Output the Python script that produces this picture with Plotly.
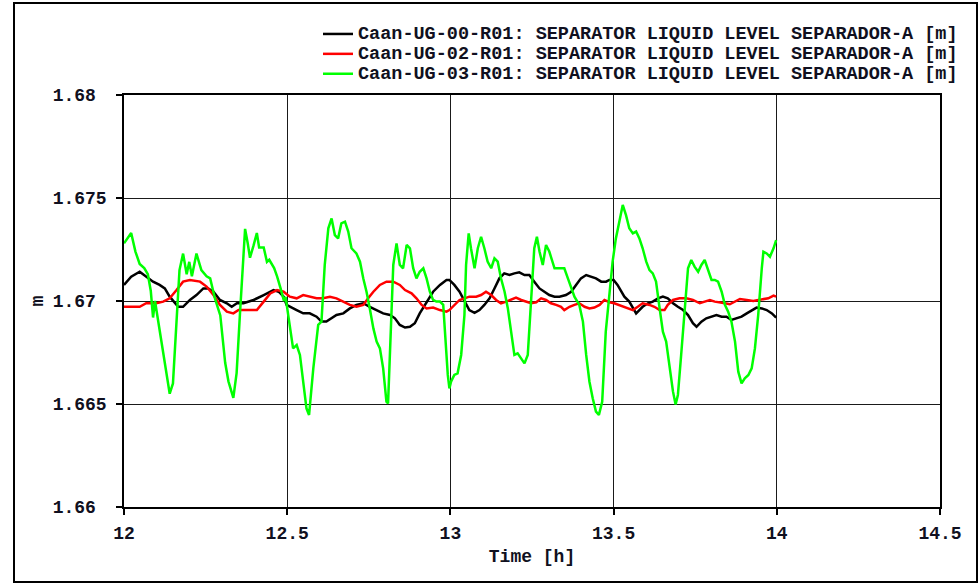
import plotly.graph_objects as go

# ---------------- data ----------------
time_black = [12.000, 12.022, 12.048, 12.068, 12.089, 12.109, 12.125, 12.140, 12.166, 12.181,
              12.202, 12.222, 12.243, 12.258, 12.274, 12.294, 12.315, 12.330, 12.346, 12.366,
              12.397, 12.428, 12.458, 12.474, 12.489, 12.498, 12.508, 12.529, 12.549, 12.569,
              12.590, 12.605, 12.620, 12.636, 12.651, 12.672, 12.692, 12.712, 12.733, 12.753,
              12.774, 12.794, 12.815, 12.830, 12.845, 12.861, 12.876, 12.891, 12.906, 12.927,
              12.947, 12.968, 12.988, 12.997, 13.012, 13.028, 13.043, 13.058, 13.074, 13.089,
              13.104, 13.120, 13.135, 13.150, 13.165, 13.181, 13.196, 13.211, 13.227, 13.242,
              13.257, 13.273, 13.288, 13.303, 13.319, 13.334, 13.354, 13.370, 13.385, 13.400,
              13.416, 13.431, 13.446, 13.462, 13.477, 13.487, 13.500, 13.512, 13.523, 13.533,
              13.548, 13.559, 13.569, 13.579, 13.589, 13.605, 13.620, 13.636, 13.651, 13.666,
              13.682, 13.697, 13.713, 13.728, 13.743, 13.754, 13.769, 13.784, 13.800, 13.815,
              13.831, 13.846, 13.861, 13.877, 13.892, 13.908, 13.923, 13.938, 13.954, 13.969,
              13.985, 13.998]
level_black = [1.67078, 1.67118, 1.67142, 1.67118, 1.67094, 1.67078, 1.67061, 1.67021, 1.66972, 1.66972,
               1.67005, 1.67029, 1.67061, 1.67061, 1.67045, 1.67005, 1.66989, 1.66972, 1.66989, 1.66989,
               1.67005, 1.67029, 1.67053, 1.67045, 1.67021, 1.66981, 1.66972, 1.66956, 1.66940, 1.66940,
               1.66924, 1.66900, 1.66900, 1.66916, 1.66932, 1.66940, 1.66964, 1.66981, 1.66989, 1.66972,
               1.66956, 1.66940, 1.66932, 1.66916, 1.66884, 1.66871, 1.66875, 1.66892, 1.66940, 1.66997,
               1.67045, 1.67078, 1.67102, 1.67102, 1.67078, 1.67045, 1.66997, 1.66956, 1.66943, 1.66956,
               1.66981, 1.67013, 1.67061, 1.67110, 1.67134, 1.67126, 1.67134, 1.67139, 1.67126, 1.67126,
               1.67094, 1.67061, 1.67045, 1.67029, 1.67021, 1.67021, 1.67029, 1.67045, 1.67078, 1.67110,
               1.67126, 1.67118, 1.67110, 1.67094, 1.67094, 1.67102, 1.67102, 1.67078, 1.67045, 1.67021,
               1.66997, 1.66964, 1.66940, 1.66956, 1.66972, 1.66989, 1.66997, 1.67013, 1.67021, 1.67013,
               1.66989, 1.66972, 1.66956, 1.66932, 1.66892, 1.66875, 1.66900, 1.66916, 1.66924, 1.66932,
               1.66924, 1.66924, 1.66908, 1.66916, 1.66924, 1.66940, 1.66956, 1.66968, 1.66964, 1.66956,
               1.66940, 1.66919]

time_red = [12.000, 12.048, 12.068, 12.099, 12.120, 12.140, 12.161, 12.181, 12.202, 12.233,
            12.253, 12.274, 12.294, 12.315, 12.335, 12.351, 12.366, 12.407, 12.428, 12.448,
            12.469, 12.489, 12.508, 12.529, 12.549, 12.569, 12.590, 12.610, 12.631, 12.651,
            12.672, 12.692, 12.712, 12.733, 12.748, 12.764, 12.784, 12.804, 12.825, 12.845,
            12.861, 12.881, 12.896, 12.912, 12.927, 12.947, 12.968, 12.988, 12.997, 13.012,
            13.028, 13.043, 13.058, 13.079, 13.094, 13.109, 13.125, 13.140, 13.155, 13.171,
            13.186, 13.201, 13.217, 13.232, 13.247, 13.263, 13.278, 13.293, 13.308, 13.324,
            13.339, 13.349, 13.365, 13.380, 13.395, 13.411, 13.426, 13.441, 13.457, 13.472,
            13.487, 13.502, 13.517, 13.533, 13.548, 13.559, 13.574, 13.589, 13.610, 13.625,
            13.641, 13.656, 13.666, 13.682, 13.702, 13.723, 13.743, 13.764, 13.779, 13.795,
            13.810, 13.825, 13.841, 13.856, 13.872, 13.887, 13.908, 13.928, 13.944, 13.959,
            13.974, 13.990, 13.998]
level_red = [1.66972, 1.66972, 1.66989, 1.66989, 1.66997, 1.67013, 1.67053, 1.67094, 1.67102, 1.67094,
             1.67070, 1.67029, 1.66981, 1.66948, 1.66940, 1.66956, 1.66956, 1.66956, 1.66997, 1.67037,
             1.67053, 1.67045, 1.67021, 1.67013, 1.67029, 1.67021, 1.67013, 1.67013, 1.67021, 1.67013,
             1.66997, 1.66981, 1.66972, 1.66981, 1.67013, 1.67045, 1.67078, 1.67094, 1.67094, 1.67078,
             1.67053, 1.67037, 1.67013, 1.66981, 1.66964, 1.66968, 1.66956, 1.66948, 1.66956, 1.66981,
             1.67005, 1.67013, 1.67021, 1.67021, 1.67029, 1.67045, 1.67029, 1.67005, 1.66989, 1.66997,
             1.67005, 1.67016, 1.67005, 1.66997, 1.66989, 1.66994, 1.67013, 1.67005, 1.66989, 1.66981,
             1.66972, 1.66956, 1.66972, 1.66981, 1.66989, 1.66972, 1.66964, 1.66968, 1.66981, 1.67005,
             1.66994, 1.66989, 1.66981, 1.66972, 1.66964, 1.66956, 1.66972, 1.66989, 1.66981, 1.66972,
             1.66956, 1.66956, 1.66981, 1.67005, 1.67013, 1.67013, 1.67005, 1.66989, 1.66997, 1.67005,
             1.66997, 1.66994, 1.66989, 1.66984, 1.66997, 1.67010, 1.67005, 1.67000, 1.67005, 1.67010,
             1.67013, 1.67026, 1.67021]

time_green = [12.000, 12.022, 12.035, 12.048, 12.062, 12.073, 12.082, 12.089, 12.095, 12.100,
              12.120, 12.140, 12.150, 12.160, 12.170, 12.181, 12.192, 12.200, 12.208, 12.222,
              12.237, 12.253, 12.264, 12.279, 12.295, 12.310, 12.320, 12.335, 12.345, 12.355,
              12.371, 12.379, 12.386, 12.397, 12.407, 12.414, 12.428, 12.438, 12.445, 12.460,
              12.469, 12.480, 12.490, 12.495, 12.508, 12.518, 12.529, 12.539, 12.559, 12.567,
              12.580, 12.595, 12.605, 12.615, 12.626, 12.636, 12.646, 12.656, 12.666, 12.677,
              12.687, 12.697, 12.712, 12.723, 12.733, 12.743, 12.753, 12.764, 12.774, 12.784,
              12.794, 12.804, 12.809, 12.815, 12.825, 12.835, 12.845, 12.855, 12.866, 12.876,
              12.886, 12.896, 12.906, 12.917, 12.927, 12.937, 12.947, 12.957, 12.968, 12.978,
              12.987, 12.992, 12.997, 13.002, 13.012, 13.022, 13.033, 13.043, 13.048, 13.056,
              13.063, 13.074, 13.084, 13.094, 13.104, 13.114, 13.125, 13.135, 13.145, 13.155,
              13.166, 13.176, 13.186, 13.196, 13.206, 13.217, 13.227, 13.237, 13.247, 13.257,
              13.265, 13.273, 13.283, 13.293, 13.303, 13.319, 13.334, 13.349, 13.360, 13.370,
              13.380, 13.395, 13.406, 13.416, 13.426, 13.436, 13.446, 13.455, 13.465, 13.476,
              13.487, 13.497, 13.507, 13.517, 13.528, 13.538, 13.548, 13.559, 13.569, 13.579,
              13.589, 13.600, 13.610, 13.620, 13.630, 13.641, 13.651, 13.661, 13.671, 13.682,
              13.690, 13.697, 13.707, 13.718, 13.728, 13.738, 13.748, 13.759, 13.769, 13.779,
              13.790, 13.800, 13.810, 13.820, 13.831, 13.841, 13.851, 13.861, 13.872, 13.882,
              13.892, 13.902, 13.913, 13.923, 13.933, 13.943, 13.954, 13.959, 13.969, 13.979,
              13.990, 13.998]
level_green = [1.67280, 1.67330, 1.67240, 1.67180, 1.67160, 1.67130, 1.67050, 1.66920, 1.67000, 1.66950,
               1.66750, 1.66550, 1.66600, 1.66900, 1.67150, 1.67230, 1.67130, 1.67190, 1.67120, 1.67230,
               1.67150, 1.67120, 1.67110, 1.67010, 1.66930, 1.66700, 1.66610, 1.66530, 1.66650, 1.66930,
               1.67350, 1.67280, 1.67210, 1.67270, 1.67330, 1.67260, 1.67260, 1.67190, 1.67200, 1.67160,
               1.67120, 1.67060, 1.67000, 1.67020, 1.66867, 1.66770, 1.66786, 1.66738, 1.66479, 1.66447,
               1.66673, 1.66884, 1.66900, 1.67175, 1.67353, 1.67401, 1.67320, 1.67304, 1.67377, 1.67385,
               1.67337, 1.67256, 1.67231, 1.67191, 1.67110, 1.67045, 1.66964, 1.66867, 1.66803, 1.66770,
               1.66673, 1.66511, 1.66503, 1.66770, 1.67175, 1.67280, 1.67175, 1.67159, 1.67272, 1.67256,
               1.67159, 1.67110, 1.67142, 1.67159, 1.67110, 1.67045, 1.67005, 1.66997, 1.66997, 1.66981,
               1.66722, 1.66641, 1.66576, 1.66608, 1.66641, 1.66649, 1.66738, 1.66932, 1.67175, 1.67328,
               1.67256, 1.67159, 1.67256, 1.67312, 1.67256, 1.67191, 1.67159, 1.67207, 1.67191, 1.67110,
               1.67045, 1.66964, 1.66851, 1.66738, 1.66746, 1.66722, 1.66697, 1.66738, 1.67013, 1.67256,
               1.67312, 1.67240, 1.67175, 1.67272, 1.67240, 1.67159, 1.67159, 1.67159, 1.67110, 1.67061,
               1.67021, 1.66981, 1.66900, 1.66738, 1.66608, 1.66528, 1.66463, 1.66447, 1.66511, 1.66851,
               1.67013, 1.67191, 1.67304, 1.67385, 1.67466, 1.67417, 1.67353, 1.67328, 1.67337, 1.67304,
               1.67256, 1.67191, 1.67150, 1.67134, 1.67094, 1.66964, 1.66851, 1.66803, 1.66689, 1.66560,
               1.66498, 1.66544, 1.66738, 1.66964, 1.67159, 1.67199, 1.67167, 1.67142, 1.67175, 1.67199,
               1.67150, 1.67102, 1.67102, 1.67094, 1.67045, 1.66981, 1.66948, 1.66900, 1.66803, 1.66657,
               1.66600, 1.66625, 1.66641, 1.66673, 1.66770, 1.66932, 1.67159, 1.67239, 1.67231, 1.67215,
               1.67256, 1.67296]

series_names = [
    "Caan-UG-00-R01: SEPARATOR LIQUID LEVEL SEPARADOR-A [m]",
    "Caan-UG-02-R01: SEPARATOR LIQUID LEVEL SEPARADOR-A [m]",
    "Caan-UG-03-R01: SEPARATOR LIQUID LEVEL SEPARADOR-A [m]",
]
x_tick_vals = [12, 12.5, 13, 13.5, 14, 14.5]
x_tick_text = ["12", "12.5", "13", "13.5", "14", "14.5"]
y_tick_vals = [1.66, 1.665, 1.67, 1.675, 1.68]
y_tick_text = ["1.66", "1.665", "1.67", "1.675", "1.68"]
x_title = "Time [h]"
y_title = "m"

# ---------------- styling ----------------
FONT = "Liberation Mono, Courier New, monospace"
TXT = "#101020"
colors = ["#000000", "#ff0000", "#00ff00"]

fig = go.Figure()
for xs, ys, name, c in zip([time_black, time_red, time_green],
                           [level_black, level_red, level_green],
                           series_names, colors):
    # legend rows are tighter than the text size: size the row with a small
    # legend font and draw the label itself larger
    fig.add_trace(go.Scatter(x=xs, y=ys, mode="lines",
                             name='<span style="font-size:18.5px">' + name + '</span>',
                             line=dict(color=c, width=2.5)))

# left-align y tick labels (monospace, pad to same width)
width_max = max(len(s) for s in y_tick_text)
y_tick_text_padded = [s + "\u00a0" * (width_max - len(s)) for s in y_tick_text]

L, R, T, B = 124, 38, 95, 78
W, H = 978, 585
pw, ph = W - L - R, H - T - B

fig.update_layout(
    width=W, height=H,
    margin=dict(l=L, r=R, t=T, b=B, pad=0),
    paper_bgcolor="white", plot_bgcolor="white",
    font=dict(family=FONT, size=18, color=TXT, weight="bold"),
    showlegend=True,
    legend=dict(x=(318 - L) / pw, xanchor="left", y=(H - B - 19) / ph, yanchor="top",
                bgcolor="rgba(0,0,0,0)", borderwidth=0,
                font=dict(family=FONT, size=13, color=TXT, weight="bold"),
                tracegroupgap=0),
    xaxis=dict(range=[12, 14.5], tickmode="array", tickvals=x_tick_vals, ticktext=x_tick_text,
               showgrid=True, gridcolor="#1a1a1a", gridwidth=1, zeroline=False,
               showline=True, linecolor="#000000", linewidth=1.5, mirror=True,
               ticks="outside", ticklen=6, tickcolor="#000000", tickwidth=1.5,
               ticklabelstandoff=3,
               title=dict(text=x_title, standoff=6,
                          font=dict(family=FONT, size=18, color=TXT, weight="bold"))),
    yaxis=dict(range=[1.66, 1.68], tickmode="array", tickvals=y_tick_vals, ticktext=y_tick_text_padded,
               showgrid=True, gridcolor="#1a1a1a", gridwidth=1, zeroline=False,
               showline=True, linecolor="#000000", linewidth=1.5, mirror=True,
               ticks="outside", ticklen=6, tickcolor="#000000", tickwidth=1.5,
               ticklabelstandoff=6,
               title=dict(text=y_title, standoff=4,
                          font=dict(family=FONT, size=18, color=TXT, weight="bold"))),
    shapes=[dict(type="rect", xref="paper", yref="paper",
                 x0=(14 - L) / pw, x1=(977 - L) / pw,
                 y0=(H - B - 582) / ph, y1=(H - B - 3) / ph,
                 line=dict(color="#000000", width=2), fillcolor="rgba(0,0,0,0)", layer="above")],
)

fig.write_html("out.html", config={"displayModeBar": False},
               post_script="document.body.style.margin='0';")
